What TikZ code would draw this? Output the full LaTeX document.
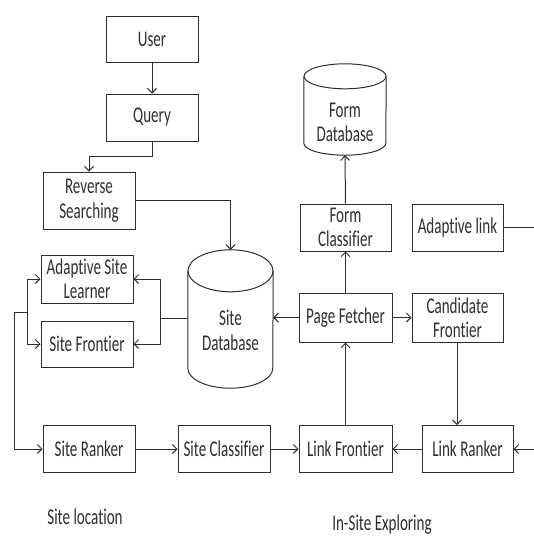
\documentclass[tikz,border=0pt]{standalone}
\usepackage{fontspec}
\setmainfont{Carlito}[FakeStretch=0.67, Ligatures=NoCommon]
\usetikzlibrary{arrows.meta}
\definecolor{ink}{HTML}{2E2E2E}
\tikzset{
  box/.style={draw=ink, line width=1pt, rectangle, minimum width=92pt, align=center, inner sep=0pt},
  arr/.style={draw=ink, line width=1pt, -{Straight Barb[length=4.5pt,width=9pt,line width=1pt]}},
  ln/.style={draw=ink, line width=1pt},
  every node/.style={text=ink, font=\fontsize{22.5}{27}\selectfont},
}
\begin{document}
\begin{tikzpicture}[x=1pt,y=-1pt]
\useasboundingbox (0,0) rectangle (534,536);

% query path (left column)
\node[box, minimum height=46pt] (user) at (152,39) {User};
\node[box, minimum height=47pt] (query) at (152,117.5) {Query};
\node[box, minimum height=57pt] (rev) at (89,200.5) {Reverse\\[-2pt]Searching};

% site location boxes
\node[box, minimum height=48pt] (asl) at (87,279) {Adaptive Site\\[-3pt]Learner};
\node[box, minimum height=46pt] (sf) at (87,344) {Site Frontier};
\node[box, minimum height=47pt] (sr) at (89,449) {Site Ranker};
\node[box, minimum height=47pt] (sc) at (224,449) {Site Classifier};

% in-site exploring boxes
\node[box, minimum height=47pt, minimum width=93pt] (lf) at (345.5,449) {Link Frontier};
\node[box, minimum height=47pt, minimum width=91pt] (lr) at (467.5,449) {Link Ranker};
\node[box, minimum height=49pt, minimum width=93pt] (pf) at (345.5,317.5) {Page Fetcher};
\node[box, minimum height=49pt, minimum width=91pt] (cf) at (457.5,317.5) {Candidate\\[-3pt]Frontier};
\node[box, minimum height=47pt, minimum width=91pt] (fc) at (345.5,227.5) {Form\\[-3pt]Classifier};
\node[box, minimum height=47pt, minimum width=91pt] (al) at (457.5,227.5) {Adaptive link};

% site database cylinder
\node[minimum width=85pt, minimum height=138pt, inner sep=0pt] (sdb) at (230.5,319) {};
\draw[ln] ([yshift=-21pt]sdb.north) ellipse[x radius=42.5pt, y radius=21pt];
\draw[ln] ([yshift=-21pt]sdb.north west) -- ([yshift=20pt]sdb.south west)
  arc[start angle=180, end angle=360, x radius=42.5pt, y radius=20pt]
  -- ([yshift=-21pt]sdb.north east);
\node[align=center] (sdbt) at (230.5,330) {Site\\[-2pt]Database};

% form database cylinder
\node[minimum width=82pt, minimum height=91pt, inner sep=0pt] (fdb) at (345,109.5) {};
\draw[ln] ([yshift=-12.5pt]fdb.north) ellipse[x radius=41pt, y radius=12.5pt];
\draw[ln] ([yshift=-12.5pt]fdb.north west) -- ([yshift=12pt]fdb.south west)
  arc[start angle=180, end angle=360, x radius=41pt, y radius=12pt]
  -- ([yshift=-12.5pt]fdb.north east);
\node[align=center] (fdbt) at (345,122) {Form\\[-3pt]Database};

% junction points
\coordinate (j1) at (160,318);
\coordinate (j2) at (27,312);
\coordinate (j3) at (14,312);
\coordinate (eal) at (534,227.5);
\coordinate (elr) at (534,449);

% connectors
\draw[arr] (user) -- (query);
\draw[arr] (query.south) -- ++(0,15) -| (rev.north);
\draw[arr] (rev.east) -| (sdb.north);
\draw[ln] (sdb.west |- j1) -- (j1);
\draw[arr] (j1) |- (asl.east);
\draw[arr] (j1) |- (sf.east);
\draw[ln] (j2) -- (j3);
\draw[arr] (j2) |- (asl.west);
\draw[arr] (j2) |- (sf.west);
\draw[arr] (j3) |- (sr.west);
\draw[arr] (sr) -- (sc);
\draw[arr] (sc) -- (lf);
\draw[arr] (lr) -- (lf);
\draw[arr] (elr) -- (lr.east);
\draw[arr] (cf.south -| 457,0) -- (lr.north -| 457,0);
\draw[arr] (lf) -- (pf);
\draw[arr] (pf) -- (fc);
\draw[arr] (fc.north) -- (fdb.south);
\draw[arr] (pf.west) -- (pf.west -| sdb.east);
\draw[arr] (pf) -- (cf);
\draw[ln] (al.east) -- (eal);

% section labels
\node (loc) at (85,517) {Site location};
\node (ins) at (382,525) {In-Site Exploring};
\end{tikzpicture}
\end{document}
